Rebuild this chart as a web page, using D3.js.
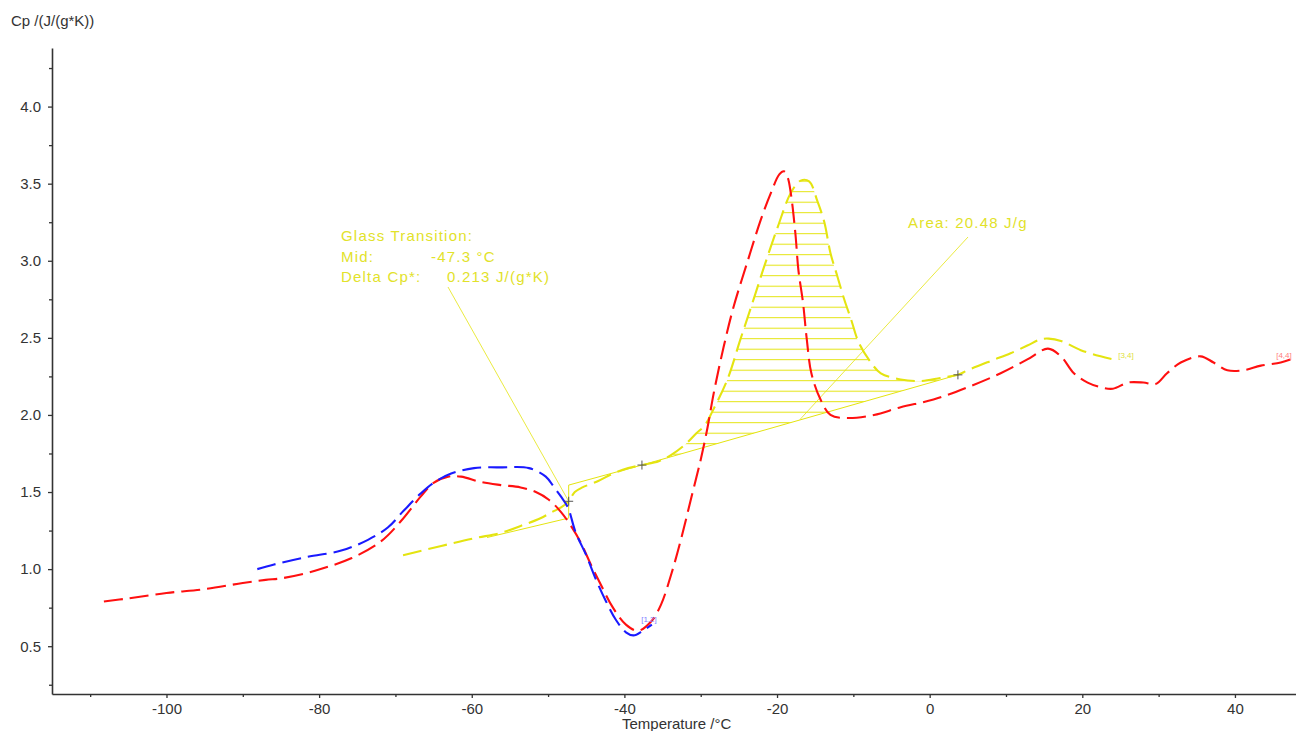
<!DOCTYPE html>
<html>
<head>
<meta charset="utf-8">
<script src="https://cdn.jsdelivr.net/npm/d3@7"></script>
<style>
body { margin: 0; background: #fff; }
svg { display: block; font-family: "Liberation Sans", Arial, sans-serif; }
</style>
</head>
<body>
<svg id="chart" width="1296" height="731"></svg>
<script>
"use strict";

// Curves: [temperature °C, Cp J/(g*K)]
var redCurve = [
    [-108.2,0.79],[-105,0.81],[-100,0.845],[-95,0.87],[-90,0.91],[-87,0.93],[-85,0.94],
    [-82,0.97],[-79.8,1.0],[-75.8,1.07],[-71.9,1.18],[-69.3,1.31],[-66.7,1.47],[-65,1.56],
    [-63.1,1.60],[-61.4,1.60],[-58.8,1.565],[-56.2,1.545],[-53.6,1.53],[-51.6,1.50],
    [-49.9,1.45],[-48.3,1.37],[-47,1.28],[-45.7,1.17],[-44.4,1.03],[-43.1,0.90],[-41.5,0.75],
    [-39.8,0.64],[-38.2,0.60],[-36.5,0.66],[-35.2,0.77],[-33.9,0.96],[-32.6,1.19],[-31.3,1.45],
    [-30,1.71],[-29.1,1.92],[-28.3,2.14],[-27,2.44],[-25.7,2.70],[-23.9,2.99],[-22.1,3.27],
    [-20.8,3.44],[-19.7,3.56],[-19.1,3.58],[-18.6,3.54],[-18.2,3.44],[-17.6,3.18],[-17.2,2.94],
    [-16.6,2.73],[-16.1,2.49],[-15.5,2.27],[-14.3,2.10],[-13,2.0],[-10.8,1.98],[-7.3,2.0],
    [-3.8,2.05],[0.5,2.10],[5,2.18],[9.3,2.27],[12.8,2.36],[15.5,2.43],[17.2,2.38],[18.9,2.27],
    [20.7,2.21],[22.4,2.18],[24,2.17],[26,2.21],[28,2.21],[29.6,2.20],[31.1,2.27],[32.9,2.34],
    [35.5,2.38],[37.2,2.34],[39,2.29],[41.1,2.29],[43.4,2.32],[46,2.34],[47.3,2.36]
];

var blueCurve = [
    [-88.1,1.0],[-85.9,1.03],[-81.5,1.08],[-77.1,1.12],[-73.6,1.19],[-71,1.27],[-68.9,1.38],
    [-66.7,1.49],[-65,1.56],[-62.7,1.62],[-59.7,1.655],[-56,1.66],[-52.5,1.655],[-50.3,1.60],
    [-49.2,1.53],[-48.3,1.47],[-47.4,1.40],[-46.4,1.24],[-45,1.09],[-43.7,0.93],[-42.4,0.79],
    [-41.1,0.67],[-39.8,0.59],[-38.8,0.57],[-37.6,0.60],[-36.4,0.64]
];

var yellowCurve = [
    [-69,1.09],[-64,1.15],[-59.7,1.20],[-56.2,1.235],[-53.6,1.28],[-51,1.33],[-49.5,1.37],
    [-48.3,1.40],[-47.3,1.44],[-46.5,1.50],[-45.5,1.53],[-43.5,1.57],[-41.5,1.62],[-39.5,1.655],
    [-37.7,1.675],[-35.5,1.70],[-33.9,1.74],[-32,1.81],[-30.6,1.88],[-29.5,1.93],[-28.5,2.02],
    [-26.5,2.23],[-24.8,2.49],[-23.2,2.73],[-21.7,2.96],[-19.9,3.22],[-18.2,3.44],[-16.9,3.52],
    [-15.8,3.515],[-14.7,3.385],[-13.8,3.25],[-13,3.05],[-12.1,2.90],[-11.2,2.75],[-10.3,2.62],
    [-9.3,2.47],[-7.7,2.34],[-6.4,2.27],[-3.8,2.23],[-1.2,2.22],[1.4,2.24],[3.7,2.26],[5,2.29],
    [8,2.35],[10.6,2.40],[12.8,2.45],[14.5,2.49],[15.6,2.495],[17.2,2.48],[19.8,2.42],
    [22.4,2.38],[24.1,2.36]
];

// Glass transition construction
var glassMid = [-47.3, 1.44];
var glassLower = [[-58,1.205],[-47.3,1.331]];
var glassUpper = [[-47.3,1.545],[-37.7,1.675]];

// Peak integration limits (baseline ends)
var areaLimits = [[-37.7,1.675],[3.7,2.26]];
var areaPointer = [-17, 1.97];

var xTicks = [-100,-80,-60,-40,-20,0,20,40];
var xMinor = [-110,-90,-70,-50,-30,-10,10,30];
var yTicks = [0.5,1.0,1.5,2.0,2.5,3.0,3.5,4.0];
var yMinor = [0.25,0.75,1.25,1.75,2.25,2.75,3.25,3.75,4.25];

var yellow = "#e4e410";
var yellowText = "#e2e22a";

var svg = d3.select("#chart");

var x = d3.scaleLinear().domain([-115, 48]).range([52, 1296]);
var y = d3.scaleLinear().domain([0.19, 4.38]).range([694, 48]);

var line = d3.line()
    .x(function(d){return x(d[0]);})
    .y(function(d){return y(d[1]);})
    .curve(d3.curveCatmullRom.alpha(0.5))
;

function baseline(t) {
    var a = areaLimits[0], b = areaLimits[1];
    return a[1] + (b[1] - a[1]) * (t - a[0]) / (b[0] - a[0]);
}

// Hatch pattern for the integrated area
var pattern = svg.append("defs")
    .append("pattern")
    .attr("id", "hatch")
    .attr("patternUnits", "userSpaceOnUse")
    .attr("width", 20)
    .attr("height", 10.5)
    .attr("y", 2.2)
;
pattern.append("line")
    .attr("x1", 0).attr("x2", 20)
    .attr("y1", 0.5).attr("y2", 0.5)
    .style("stroke", yellow)
    .style("stroke-width", 1)
;

// Axes (plain hyphen for negative labels, as in the original)
var xAxis = svg.append("g").attr("transform", "translate(0,694)");
xAxis.call(d3.axisBottom(x).tickValues(xTicks).tickSize(4).tickSizeOuter(0).tickPadding(5)
    .tickFormat(function(d){return String(d);}));
svg.append("g").attr("transform", "translate(0,694)")
    .call(d3.axisBottom(x).tickValues(xMinor).tickSize(3).tickSizeOuter(0).tickFormat(""))
    .select(".domain").remove()
;

var yAxis = svg.append("g").attr("transform", "translate(52,0)");
yAxis.call(d3.axisLeft(y).tickValues(yTicks).tickSize(4).tickSizeOuter(0).tickPadding(7)
    .tickFormat(function(d){return d.toFixed(1);}));
svg.append("g").attr("transform", "translate(52,0)")
    .call(d3.axisLeft(y).tickValues(yMinor).tickSize(3).tickSizeOuter(0).tickFormat(""))
    .select(".domain").remove()
;

svg.selectAll(".domain").style("stroke", "#333").style("stroke-width", 1.6);
svg.selectAll(".tick line").style("stroke", "#333").style("stroke-width", 1.3);
svg.selectAll(".tick text")
    .style("font-family", "'Liberation Sans', Arial, sans-serif")
    .style("font-size", "15px")
    .style("fill", "#333")
;

svg.append("text")
    .attr("x", 11).attr("y", 26)
    .style("font-size", "15px").style("fill", "#333")
    .text("Cp /(J/(g*K))")
;
svg.append("text")
    .attr("x", 622).attr("y", 729)
    .style("font-size", "15px").style("fill", "#333")
    .text("Temperature /°C")
;

// Hatched peak area
var areaPts = yellowCurve.filter(function(d){return d[0] >= areaLimits[0][0] && d[0] <= areaLimits[1][0];});
svg.append("path")
    .datum(areaPts)
    .attr("d", d3.area()
        .x(function(d){return x(d[0]);})
        .y0(function(d){return y(Math.min(baseline(d[0]), d[1]));})
        .y1(function(d){return y(d[1]);})
        .curve(d3.curveCatmullRom.alpha(0.5)))
    .style("fill", "url(#hatch)")
    .style("stroke", "none")
;

// Thin construction lines
function thin(pts) {
    svg.append("path")
        .datum(pts)
        .attr("d", d3.line().x(function(d){return x(d[0]);}).y(function(d){return y(d[1]);}))
        .style("fill", "none")
        .style("stroke", yellow)
        .style("stroke-width", 1)
    ;
}
thin(areaLimits);
thin(glassLower);
thin(glassUpper);
thin([[glassMid[0], glassLower[1][1]], [glassMid[0], glassUpper[0][1]]]);

// Leader lines from annotations
svg.append("line")
    .attr("x1", 448).attr("y1", 287)
    .attr("x2", x(glassMid[0])).attr("y2", y(glassMid[1]))
    .style("stroke", yellow).style("stroke-width", 0.8)
;
svg.append("line")
    .attr("x1", 968).attr("y1", 237)
    .attr("x2", x(areaPointer[0])).attr("y2", y(areaPointer[1]))
    .style("stroke", yellow).style("stroke-width", 0.8)
;

// Measured curves
function curve(data, color) {
    svg.append("path")
        .datum(data)
        .attr("d", line)
        .style("fill", "none")
        .style("stroke", color)
        .style("stroke-width", 2.1)
        .style("stroke-dasharray", "19,7")
    ;
}
curve(yellowCurve, yellow);
curve(redCurve, "#ff1010");
curve(blueCurve, "#1a1aff");

// "+" markers
var marks = [glassMid, areaLimits[0], areaLimits[1]];
svg.selectAll(".mark")
    .data(marks)
    .enter()
    .append("path")
    .attr("class", "mark")
    .attr("d", function(d){
        var cx = x(d[0]), cy = y(d[1]);
        return "M" + (cx - 4.5) + "," + cy + "H" + (cx + 4.5) + "M" + cx + "," + (cy - 4.5) + "V" + (cy + 4.5);
    })
    .style("stroke", "#555")
    .style("stroke-width", 1)
;

// Annotation text
var gt = svg.append("text")
    .style("font-size", "15px")
    .style("letter-spacing", "1.2px")
    .style("fill", yellowText)
;
gt.append("tspan").attr("x", 341).attr("y", 241).text("Glass Transition:");
gt.append("tspan").attr("x", 341).attr("y", 262).text("Mid:");
gt.append("tspan").attr("x", 431).attr("y", 262).text("-47.3 °C");
gt.append("tspan").attr("x", 341).attr("y", 282).text("Delta Cp*:");
gt.append("tspan").attr("x", 447).attr("y", 282).text("0.213 J/(g*K)");

svg.append("text")
    .attr("x", 908).attr("y", 228)
    .style("font-size", "15px")
    .style("letter-spacing", "1.2px")
    .style("fill", yellowText)
    .text("Area: 20.48 J/g")
;

// Curve tags
function tag(px, py, txt, color) {
    svg.append("text")
        .attr("x", px).attr("y", py)
        .style("font-size", "8px")
        .style("fill", color)
        .text(txt)
    ;
}
tag(x(-37.8), y(0.66), "[1,2]", "#8080ff");
tag(x(24.7), y(2.37), "[3,4]", "#e0e040");
tag(x(45.4), y(2.37), "[4,4]", "#ff8080");
</script>
</body>
</html>
